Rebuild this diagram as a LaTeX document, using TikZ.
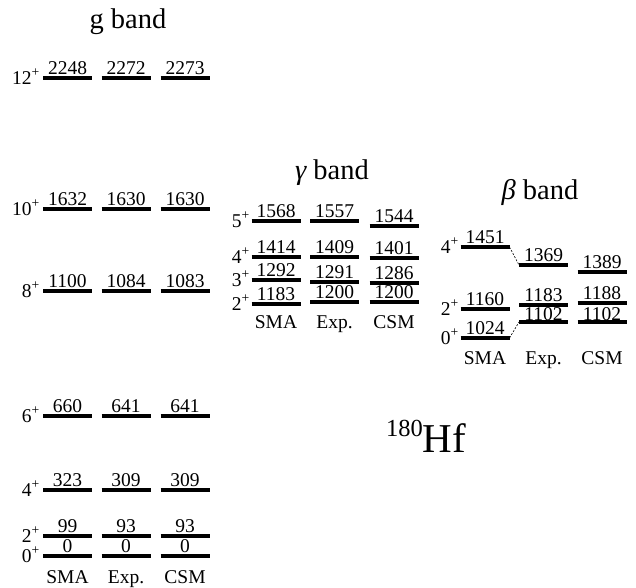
\documentclass[tikz,border=0pt]{standalone}
\usepackage{fontspec}
\setmainfont{Liberation Serif}
\begin{document}
\begin{tikzpicture}[x=1pt,y=-1pt,
  lvl/.style={line width=3.3pt},
  val/.style={font=\fontsize{19.5}{21}\selectfont, inner sep=0pt, anchor=base},
  spin/.style={font=\fontsize{19.5}{21}\selectfont, inner sep=0pt, anchor=base east},
  col/.style={font=\fontsize{19.5}{21}\selectfont, inner sep=0pt, anchor=base},
  title/.style={font=\fontsize{28.5}{30}\selectfont, inner sep=0pt},
  link/.style={line width=0.6pt, dash pattern=on 2pt off 1.5pt}]
\useasboundingbox (0,0) rectangle (636,587);

% ground band: SMA / Exp. / CSM columns
\foreach \cx/\lab [count=\c] in {67.5/SMA, 126/Exp., 185/CSM}{
  \node[col] (gcol\c) at (\cx,583) {\lab};
}
\foreach \cx/\y/\v [count=\i] in {
  67.5/78/2248, 126/78/2272, 185/78/2273,
  67.5/209/1632, 126/209/1630, 185/209/1630,
  67.5/291/1100, 126/291/1084, 185/291/1083,
  67.5/416/660, 126/416/641, 185/416/641,
  67.5/490/323, 126/490/309, 185/490/309,
  67.5/536/99, 126/536/93, 185/536/93,
  67.5/556/0, 126/556/0, 185/556/0}{
  \draw[lvl] (\cx-24.5,\y) -- (\cx+24.5,\y);
  \node[val] (g\i) at (\cx,\y-3.5) {\v};
}
\foreach \y/\s [count=\i] in {78/12, 209/10, 291/8, 416/6, 490/4, 536/2, 556/0}{
  \node[spin] (gs\i) at (40,\y+6) {\s\textsuperscript{+}};
}
\node[title] (gt) at (128,22) {g band};

% gamma band
\foreach \cx/\lab [count=\c] in {276/SMA, 334.5/Exp., 394/CSM}{
  \node[col] (ycol\c) at (\cx,328.5) {\lab};
}
\foreach \cx/\y/\v [count=\i] in {
  276/221/1568, 334.5/221/1557, 394/226/1544,
  276/257/1414, 334.5/257/1409, 394/258/1401,
  276/280/1292, 334.5/282/1291, 394/283/1286,
  276/304/1183, 334.5/302/1200, 394/302/1200}{
  \draw[lvl] (\cx-24.5,\y) -- (\cx+24.5,\y);
  \node[val] (y\i) at (\cx,\y-3.5) {\v};
}
\foreach \y/\s [count=\i] in {221/5, 257/4, 280/3, 304/2}{
  \node[spin] (ys\i) at (250,\y+6) {\s\textsuperscript{+}};
}
\node[title] (yt) at (332,173) {{\itshape γ} band};

% beta band (last field: label raise above the bar)
\foreach \cx/\lab [count=\c] in {485/SMA, 543.5/Exp., 602/CSM}{
  \node[col] (bcol\c) at (\cx,364.5) {\lab};
}
\foreach \cx/\y/\v/\r [count=\i] in {
  485/247/1451/3.5, 543.5/265/1369/3.5, 602/272/1389/3.5,
  485/309/1160/3.5, 543.5/305/1183/3.5, 602/303/1188/3.5,
  485/338/1024/3.5, 543.5/322/1102/2, 602/322/1102/2}{
  \draw[lvl] (\cx-24.5,\y) -- (\cx+24.5,\y);
  \coordinate (bl\i) at (\cx-24.5,\y);
  \coordinate (br\i) at (\cx+24.5,\y);
  \node[val] (b\i) at (\cx,\y-\r) {\v};
}
\foreach \y/\s [count=\i] in {247/4, 309/2, 338/0}{
  \node[spin] (bs\i) at (459,\y+6) {\s\textsuperscript{+}};
}
\draw[link] (br1) -- (bl2);
\draw[link] (br7) -- (bl8);
\node[title] (bt) at (540,192) {{\itshape β} band};

% nucleus label
\node[inner sep=0pt, anchor=base west] (nuc) at (386,452)
  {\raisebox{16pt}{\fontsize{24.5}{26}\selectfont 180}\fontsize{41}{44}\selectfont Hf};
\end{tikzpicture}
\end{document}
